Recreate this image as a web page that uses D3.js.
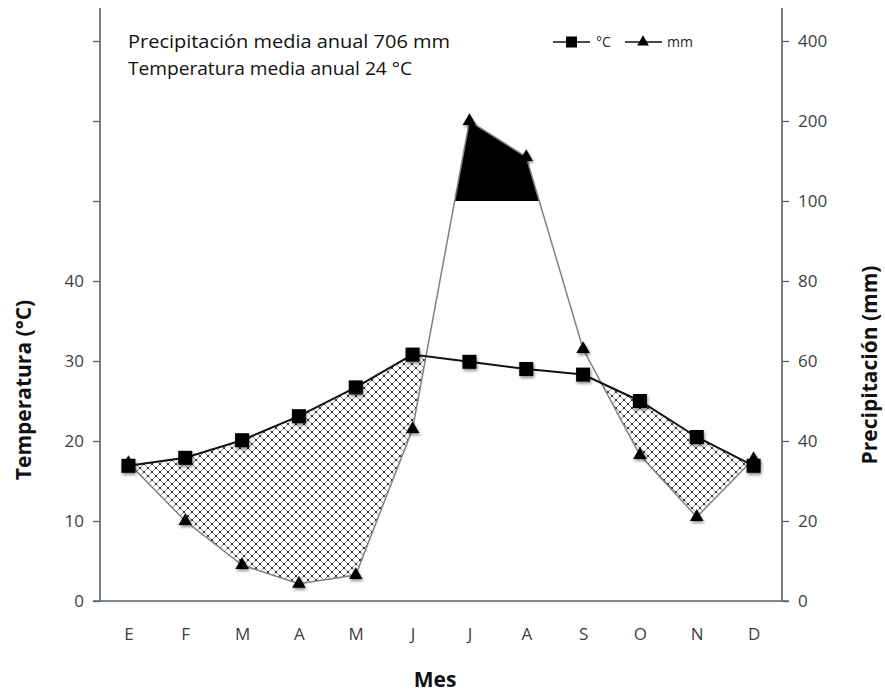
<!DOCTYPE html>
<html><head><meta charset="utf-8">
<script src="https://cdn.jsdelivr.net/npm/d3@7/dist/d3.min.js"></script>
<style>body{margin:0;background:#fff}svg{display:block}</style>
</head><body><svg id="c" width="885" height="694"></svg>
<script>
// ---- data ----
const months = ["E","F","M","A","M","J","J","A","S","O","N","D"];
const temperature = [16.9,17.9,20.1,23.1,26.7,30.8,29.9,29.0,28.3,25.0,20.5,16.9];
const precipitation = [34.5,20,9,4.3,6.5,43,200,155,63,36.5,21,35.5];
const tempTicks = [0,10,20,30,40,50,60,70];
const tempTickLabels = ["0","10","20","30","40","","",""];
const precTicks = [0,20,40,60,80,100,200,400];
const noteLines = ["Precipitación media anual 706 mm","Temperatura media anual 24 °C"];

(function(){
const svg = d3.select("#c");
const FONT = "'Open Sans', 'Noto Sans', sans-serif";
const axisColor = "#56606b";
const pLeft = 100, pRight = 782, pBottom = 601, pTop = 8;

const x = d3.scalePoint().domain(d3.range(12)).range([pLeft, pRight]).padding(0.5);
const yT = d3.scaleLinear().domain([0,70]).range([pBottom, 41]);
const yP = d3.scaleLinear().domain([0,100,200,400]).range([pBottom, 201, 121, 41]);
const idx = d3.range(12);

const defs = svg.append("defs");
const pat = defs.append("pattern").attr("id","hatch").attr("width",8).attr("height",8)
  .attr("patternUnits","userSpaceOnUse").attr("x",0).attr("y",0);
pat.append("rect").attr("width",8).attr("height",8).attr("fill","#fff");
pat.append("path").attr("d","M0,0L8,8M8,0L0,8").attr("stroke","#666").attr("stroke-width",0.7);
pat.append("circle").attr("cx",4).attr("cy",4).attr("r",1.1).attr("fill","#1a1a1a");
[[0,0],[8,0],[0,8],[8,8]].forEach(p=>pat.append("circle").attr("cx",p[0]).attr("cy",p[1]).attr("r",1.1).attr("fill","#1a1a1a"));

const f = defs.append("filter").attr("id","sh").attr("x","-50%").attr("y","-50%").attr("width","200%").attr("height","200%");
f.append("feDropShadow").attr("dx",1).attr("dy",2).attr("stdDeviation",1.5).attr("flood-color","#000").attr("flood-opacity",0.45);

defs.append("clipPath").attr("id","belowT").append("path")
  .attr("d", d3.area().x(i=>x(i)).y0(pBottom).y1(i=>yT(temperature[i]))(idx));
defs.append("clipPath").attr("id","above100").append("rect")
  .attr("x",0).attr("y",0).attr("width",885).attr("height",yP(100));

// dry area
svg.append("path")
  .attr("d", d3.area().x(i=>x(i)).y0(i=>yT(temperature[i])).y1(i=>yP(precipitation[i]))(idx))
  .attr("fill","url(#hatch)").attr("clip-path","url(#belowT)");
// wet area (>100 mm)
svg.append("path")
  .attr("d", d3.area().x(i=>x(i)).y0(yP(100)).y1(i=>yP(precipitation[i]))(idx))
  .attr("fill","#000").attr("clip-path","url(#above100)");

// axes
const gL = svg.append("g").attr("transform",`translate(${pLeft},0)`)
  .call(d3.axisLeft(yT).tickValues(tempTicks).tickFormat((d,i)=>tempTickLabels[i]).tickSize(7).tickPadding(9).tickSizeOuter(0));
const gR = svg.append("g").attr("transform",`translate(${pRight},0)`)
  .call(d3.axisRight(yP).tickValues(precTicks).tickFormat(d3.format("d")).tickSize(7).tickPadding(9).tickSizeOuter(0));
[gL,gR].forEach(g=>{
  g.select(".domain").remove();
  g.selectAll(".tick line").attr("stroke",axisColor).attr("stroke-width",1.3);
  g.selectAll(".tick text").attr("font-family",FONT).attr("font-size",17).attr("fill","#404040");
});
svg.append("line").attr("x1",pLeft).attr("x2",pLeft).attr("y1",pTop).attr("y2",pBottom).attr("stroke",axisColor).attr("stroke-width",1.6);
svg.append("line").attr("x1",pRight).attr("x2",pRight).attr("y1",pTop).attr("y2",pBottom).attr("stroke",axisColor).attr("stroke-width",1.6);
const gB = svg.append("g").attr("transform",`translate(0,${pBottom})`)
  .call(d3.axisBottom(x).tickFormat(i=>months[i]).tickSize(0).tickPadding(27));
gB.select(".domain").remove();
gB.selectAll(".tick text").attr("font-family",FONT).attr("font-size",17).attr("fill","#404040");
svg.append("line").attr("x1",93).attr("x2",789).attr("y1",pBottom).attr("y2",pBottom).attr("stroke",axisColor).attr("stroke-width",1.6);

// lines
svg.append("path").attr("d", d3.line().x(i=>x(i)).y(i=>yP(precipitation[i]))(idx))
  .attr("fill","none").attr("stroke","#808080").attr("stroke-width",1.5);
svg.append("path").attr("d", d3.line().x(i=>x(i)).y(i=>yT(temperature[i]))(idx))
  .attr("fill","none").attr("stroke","#111").attr("stroke-width",2);

// markers
const tri = d3.symbol().type(d3.symbolTriangle).size(80);
svg.append("g").attr("filter","url(#sh)").selectAll("path").data(idx).join("path")
  .attr("d", tri).attr("transform",i=>`translate(${x(i)},${yP(precipitation[i])})`).attr("fill","#000");
svg.append("g").attr("filter","url(#sh)").selectAll("rect").data(idx).join("rect")
  .attr("x",i=>x(i)-7).attr("y",i=>yT(temperature[i])-7).attr("width",14).attr("height",14).attr("fill","#000");

// legend
const lg = svg.append("g").attr("font-family",FONT).attr("font-size",14).attr("fill","#222");
lg.append("line").attr("x1",553).attr("x2",590).attr("y1",42).attr("y2",42).attr("stroke","#111").attr("stroke-width",1.5);
lg.append("rect").attr("x",566).attr("y",36.5).attr("width",11).attr("height",11).attr("fill","#000");
lg.append("text").attr("x",596).attr("y",47).text("°C");
lg.append("line").attr("x1",625).attr("x2",662).attr("y1",42).attr("y2",42).attr("stroke","#111").attr("stroke-width",1.5);
lg.append("path").attr("d",d3.symbol().type(d3.symbolTriangle).size(60)()).attr("transform","translate(643,42)").attr("fill","#000");
lg.append("text").attr("x",667).attr("y",47).text("mm");

// note
const noteWidths = [322, 284];
svg.append("g").selectAll("text").data(noteLines).join("text")
  .attr("x",128).attr("y",(d,i)=>48+i*27).attr("font-family",FONT).attr("font-size",19).attr("fill","#111")
  .attr("textLength",(d,i)=>noteWidths[i]).attr("lengthAdjust","spacingAndGlyphs").text(d=>d);

// titles
svg.append("text").attr("transform","translate(31,390) rotate(-90)").attr("text-anchor","middle")
  .attr("font-family",FONT).attr("font-weight","bold").attr("font-size",21).attr("fill","#111").text("Temperatura (°C)");
svg.append("text").attr("transform","translate(877,365) rotate(-90)").attr("text-anchor","middle")
  .attr("font-family",FONT).attr("font-weight","bold").attr("font-size",21).attr("fill","#111").text("Precipitación (mm)");
svg.append("text").attr("x",435).attr("y",687).attr("text-anchor","middle")
  .attr("font-family",FONT).attr("font-weight","bold").attr("font-size",21).attr("fill","#111").text("Mes");
})();
</script></body></html>
